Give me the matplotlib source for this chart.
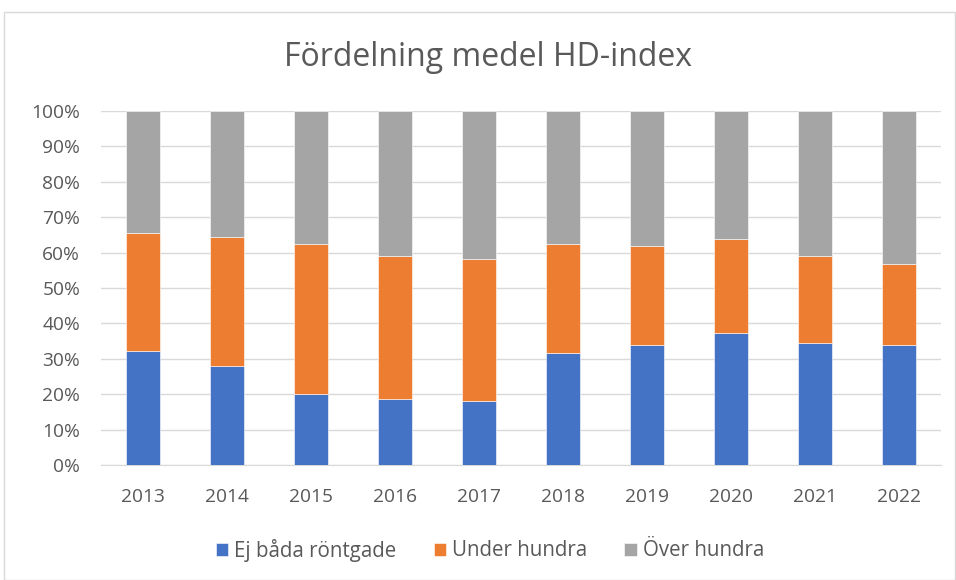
import matplotlib
matplotlib.use("Agg")
import matplotlib.pyplot as plt
import numpy as np
from matplotlib.patches import Rectangle
from matplotlib.ticker import FuncFormatter, MultipleLocator

years = ["2013", "2014", "2015", "2016", "2017", "2018", "2019", "2020", "2021", "2022"]
ej_bada = [32.2, 28.1, 20.1, 18.6, 18.2, 31.7, 34.0, 37.4, 34.5, 33.8]
under_hundra = [33.2, 36.3, 42.2, 40.4, 39.9, 30.6, 28.0, 26.5, 24.5, 22.9]
over_hundra = [34.6, 35.6, 37.7, 41.0, 41.9, 37.7, 38.0, 36.1, 41.0, 43.3]

colors = ["#4472C4", "#ED7D31", "#A5A5A5"]
labels = ["Ej båda röntgade", "Under hundra", "Över hundra"]
text_color = "#595959"

plt.rcParams['font.family'] = ['Open Sans', 'DejaVu Sans']

fig = plt.figure(figsize=(9.56, 5.8), dpi=100)
W, H = 956, 580
ax = fig.add_axes([101 / W, 1 - 465 / H, (941 - 101) / W, (465 - 111) / H])

x = np.arange(len(years))
bottom = np.zeros(len(years))
for vals, c, lab in zip([ej_bada, under_hundra, over_hundra], colors, labels):
    ax.bar(x, vals, bottom=bottom, width=0.4, color=c, label=lab,
           edgecolor="white", linewidth=0.4, zorder=3)
    bottom += np.array(vals)

ax.set_xlim(-0.5, len(years) - 0.5)
ax.set_ylim(0, 100)
ax.yaxis.set_major_locator(MultipleLocator(10))
ax.yaxis.set_major_formatter(FuncFormatter(lambda v, p: f"{int(round(v))}%"))
ax.set_xticks(x)
ax.set_xticklabels(years)
ax.grid(axis="y", color="#D9D9D9", linewidth=1.0, zorder=0)
for s in ["top", "right", "left"]:
    ax.spines[s].set_visible(False)
ax.spines["bottom"].set_color("#D9D9D9")
ax.tick_params(axis="both", length=0, labelsize=13.8, colors=text_color)
ax.tick_params(axis="x", pad=16.5)
ax.tick_params(axis="y", pad=15)

fig.text(488 / W, 1 - 57 / H, "Fördelning medel HD-index",
         ha="center", va="center", fontsize=23, color=text_color)

leg = fig.legend(loc="center", bbox_to_anchor=(490 / W, 1 - 550 / H), ncol=3,
                 frameon=False, fontsize=14.8, handlelength=0.6, handleheight=0.6,
                 handletextpad=0.3, columnspacing=1.8, labelcolor=text_color)

fig.patches.append(Rectangle((4 / W, 0), (951) / W, 1 - 12 / H, transform=fig.transFigure,
                             fill=False, edgecolor="#D9D9D9", linewidth=1.0))

fig.savefig("out.png", dpi=100, facecolor="white")
